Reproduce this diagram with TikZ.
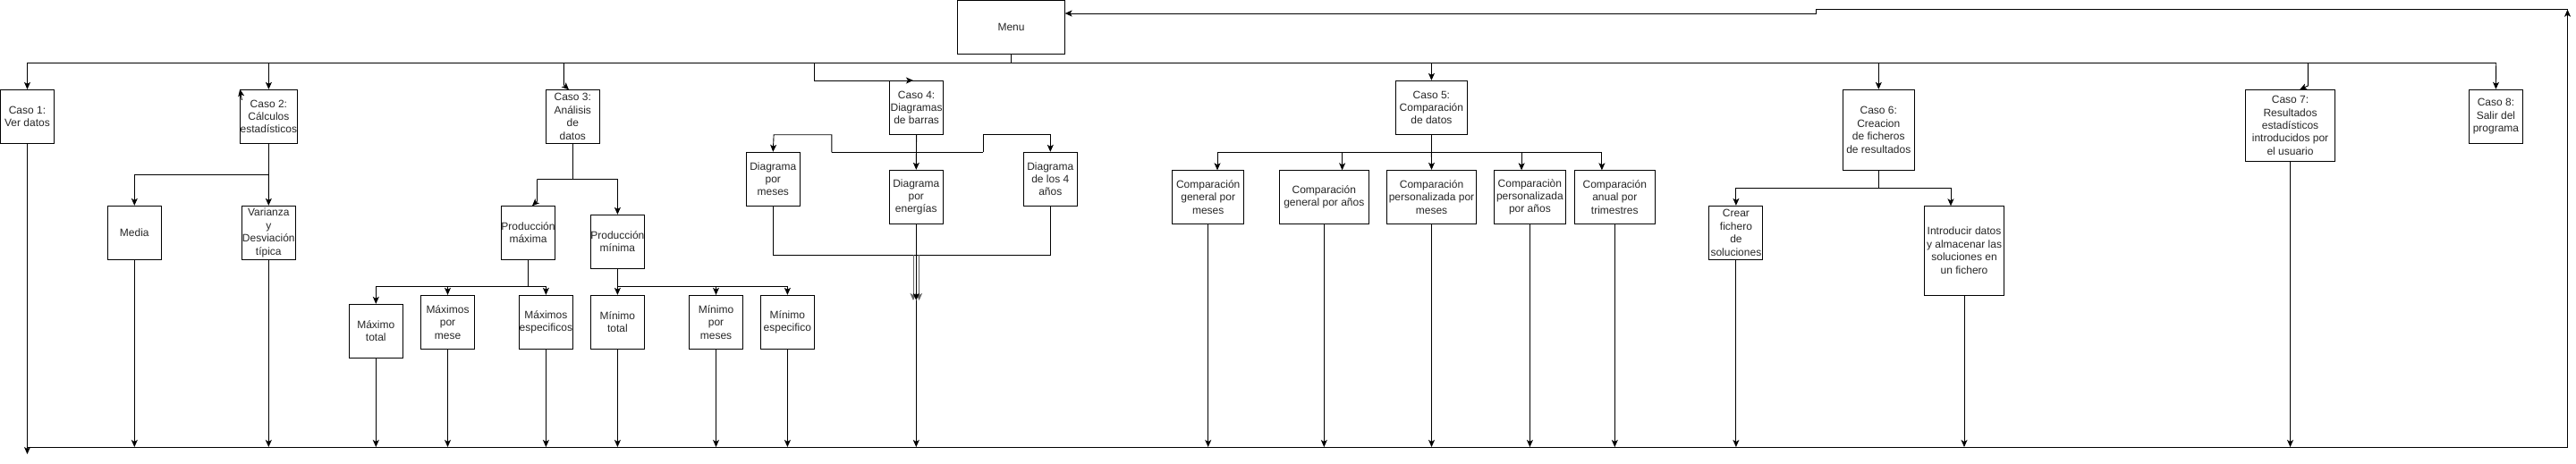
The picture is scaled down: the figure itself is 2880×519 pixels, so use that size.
\documentclass[tikz,border=0pt]{standalone}
\usepackage{fontspec}
\setmainfont{Liberation Sans}
\usetikzlibrary{arrows.meta}
\begin{document}
\begin{tikzpicture}[x=1pt,y=-1pt,
  box/.style={draw=black,line width=0.9pt,inner sep=0pt,align=center,
    font=\fontsize{12pt}{14.4pt}\selectfont,text=black!85},
  ln/.style={draw=black,line width=0.9pt},
  arr/.style={ln,-{Stealth[length=8pt,width=7pt,inset=2pt]}},
  garr/.style={draw=black!60,line width=0.9pt,-{Stealth[length=8pt,width=7pt,inset=2pt]}}]
\useasboundingbox (0,0) rectangle (2880,519);

% ---------- nodes ----------
\node[box,minimum width=120,minimum height=60] (menu) at (1130.5,30.8) {Menu};
\node[box,minimum width=60,minimum height=60] (c1) at (30.5,130.3) {Caso 1:\\Ver datos};
\node[box,minimum width=60,minimum height=60] (c2) at (300.4,130.3) {Caso 2:\\Cálculos\\estadísticos};
\node[box,minimum width=60,minimum height=60] (c3) at (640.3,130.3) {Caso 3:\\Análisis\\de\\datos};
\node[box,minimum width=60,minimum height=60] (media) at (150.3,260.3) {Media};
\node[box,minimum width=60,minimum height=60] (var) at (300.3,260.3) {Varianza\\y\\Desviación\\típica};
\node[box,minimum width=60,minimum height=60] (pmax) at (590.5,260.3) {Producción\\máxima};
\node[box,minimum width=60,minimum height=60] (pmin) at (690.4,270.3) {Producción\\mínima};
\node[box,minimum width=60,minimum height=60] (maxtot) at (420.3,370.3) {Máximo\\total};
\node[box,minimum width=60,minimum height=60] (maxmes) at (500.5,360.3) {Máximos\\por\\mese};
\node[box,minimum width=60,minimum height=60] (maxesp) at (610.4,360.3) {Máximos\\especificos};
\node[box,minimum width=60,minimum height=60] (mintot) at (690.4,360.3) {Mínimo\\total};
\node[box,minimum width=60,minimum height=60] (minmes) at (800.5,360.3) {Mínimo\\por\\meses};
\node[box,minimum width=60,minimum height=60] (minesp) at (880.4,360.3) {Mínimo\\especifico};
\node[box,minimum width=60,minimum height=60] (c4) at (1024.6,120.3) {Caso 4:\\Diagramas\\de barras};
\node[box,minimum width=60,minimum height=60] (dmes) at (864.3,200.3) {Diagrama\\por\\meses};
\node[box,minimum width=60,minimum height=60] (dener) at (1024.3,220.3) {Diagrama\\por\\energías};
\node[box,minimum width=60,minimum height=60] (d4) at (1174.3,200.3) {Diagrama\\de los 4\\años};
\node[box,minimum width=80,minimum height=60] (c5) at (1600.4,120.3) {Caso 5:\\Comparación\\de datos};
\node[box,minimum width=80,minimum height=60] (cg1) at (1350.7,220.3) {Comparación\\general por\\meses};
\node[box,minimum width=100,minimum height=60] (cg2) at (1480.3,220.3) {Comparación\\general por años};
\node[box,minimum width=100,minimum height=60] (cp1) at (1600.5,220.3) {Comparación\\personalizada por\\meses};
\node[box,minimum width=80,minimum height=60] (cp2) at (1710.4,220.3) {Comparaciòn\\personalizada\\por años};
\node[box,minimum width=90,minimum height=60] (ca) at (1805.3,220.3) {Comparación\\anual por\\trimestres};
\node[box,minimum width=80,minimum height=90] (c6) at (2100.3,145.3) {Caso 6:\\Creacion\\de ficheros\\de resultados};
\node[box,minimum width=60,minimum height=60] (crear) at (1940.9,260.3) {Crear\\fichero\\de\\soluciones};
\node[box,minimum width=89,minimum height=100] (intro) at (2196,280.3) {Introducir datos\\y almacenar las\\soluciones en\\un fichero};
\node[box,minimum width=100,minimum height=80] (c7) at (2560.5,140.3) {Caso 7:\\Resultados\\estadísticos\\introducidos por\\el usuario};
\node[box,minimum width=60,minimum height=60] (c8) at (2790.4,130.2) {Caso 8:\\Salir del\\programa};

% ---------- coordinates ----------
\coordinate (busL) at (30.5,70.3);
\coordinate (busR) at (2790.7,70.3);
\coordinate (busM) at (1130.5,70.3);
\coordinate (b2) at (300.4,70.3);
\coordinate (b3) at (630.4,70.3);
\coordinate (b4) at (910.5,70.3);
\coordinate (b5) at (1600.4,70.3);
\coordinate (b6) at (2100.3,70.3);
\coordinate (b7) at (2580.3,70.3);
\coordinate (lowL) at (30.5,500);
\coordinate (lowR) at (2870.5,500);
\coordinate (topR) at (2870.5,10.7);
\coordinate (menuin) at (1190.6,15);

% ---------- top bus ----------
\draw[ln] (busL) -- (busR);
\draw[ln] (menu.south) -- (busM);
\draw[arr] (busL) -- (c1.north);
\draw[arr] (b2) -- (c2.north);
\draw[arr] (b3) -- (630.4,95) -- (636,100.3);
\draw[arr] (b4) -- (910.5,90) -- (1021,90);
\draw[arr] (b5) -- (c5.north);
\draw[arr] (b6) -- (c6.north);
\draw[arr] (b7) -- (2580.3,96) -- (2571,100.3);
\draw[arr] (busR) -- (c8.north);
\draw[arr] (270.4,112) -- (c2.north west);

% ---------- Caso 2 ----------
\draw[ln] (c2.south) -- (300.4,195.3) -- (150.3,195.3);
\draw[arr] (150.3,195.3) -- (media.north);
\draw[arr] (300.4,195.3) -- (var.north);

% ---------- Caso 3 ----------
\draw[ln] (c3.south) -- (640.3,200.3);
\draw[ln] (600.5,200.3) -- (690.4,200.3);
\draw[arr] (690.4,200.3) -- (pmin.north);
\draw[arr] (600.5,200.3) -- (600.5,225) -- (595,230.3);
\draw[ln] (pmax.south) -- (590.5,320.3);
\draw[ln] (420.3,320.3) -- (610.4,320.3);
\draw[arr] (420.3,320.3) -- (maxtot.north);
\draw[arr] (500.5,320.3) -- (maxmes.north);
\draw[arr] (610.4,320.3) -- (maxesp.north);
\draw[ln] (pmin.south) -- (690.4,320.3) -- (880.4,320.3);
\draw[arr] (690.4,320.3) -- (mintot.north);
\draw[arr] (800.5,320.3) -- (minmes.north);
\draw[arr] (880.4,320.3) -- (minesp.north);

% ---------- Caso 4 ----------
\draw[arr] (c4.south) -- (dener.north);
\draw[ln] (929.8,170.3) -- (1099.2,170.3);
\draw[arr] (929.8,170.3) -- (929.8,150.7) -- (865.1,150.7) -- (dmes.north);
\draw[arr] (1099.2,170.3) -- (1099.2,150.7) -- (1174.3,150.7) -- (d4.north);
\draw[ln] (dmes.south) -- (864.3,285) -- (1174.3,285) -- (d4.south);
\draw[ln] (dener.south) -- (1024.3,285);
\draw[garr] (1021,285) -- (1021,336);
\draw[garr] (1027.6,285) -- (1027.6,336);
\draw[arr] (1024.3,285) -- (1024.3,336);
\coordinate (dj) at (1024.3,336);
\draw[arr] (dj) -- (1024.3,500);

% ---------- Caso 5 ----------
\draw[ln] (c5.south) -- (1600.4,170);
\draw[ln] (1361,170) -- (1790.9,170);
\draw[arr] (1361,170) -- (1361,190.3);
\draw[arr] (1500.6,170) -- (1500.6,190.3);
\draw[arr] (1600.4,170) -- (cp1.north);
\draw[arr] (1701.1,170) -- (1701.1,190.3);
\draw[arr] (1790.9,170) -- (1790.9,190.3);

% ---------- Caso 6 ----------
\draw[ln] (c6.south) -- (2100.3,210);
\draw[ln] (1940.9,210) -- (2181,210);
\draw[arr] (1940.9,210) -- (crear.north);
\draw[arr] (2181,210) -- (2181,230.3);

% ---------- down to bottom bus ----------
\draw[arr] (c1.south) -- (30.5,508);
\foreach \n in {media,var,maxtot,maxmes,maxesp,mintot,minmes,minesp,cg1,cg2,cp1,cp2,ca,crear,intro,c7}
  \draw[arr] (\n.south) -- (\n.south |- lowL);

% ---------- return to menu ----------
\draw[ln] (lowL) -- (lowR);
\draw[arr] (lowR) -- (topR);
\draw[arr] (topR) -- (2030,10.7) -- (2030,15) -- (menuin);
\end{tikzpicture}
\end{document}
